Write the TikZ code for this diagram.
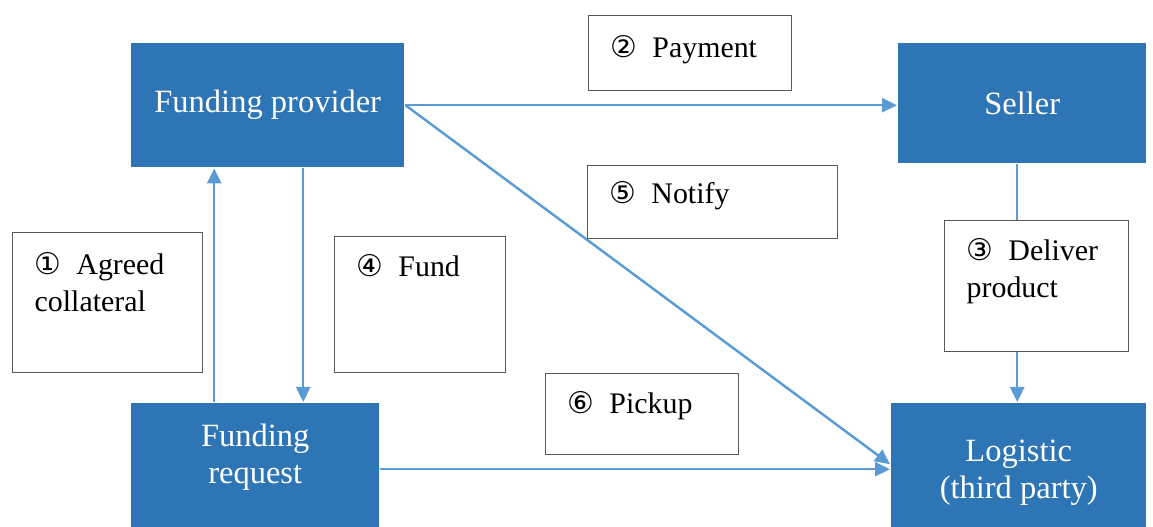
\documentclass[tikz,border=0pt]{standalone}
\usepackage{fontspec}
\setmainfont{Liberation Serif}
\newfontfamily\circfont{DejaVu Sans}
\usetikzlibrary{arrows.meta, positioning}
\definecolor{boxblue}{HTML}{2E75B6}
\definecolor{lineblue}{HTML}{5B9BD5}
\definecolor{framegray}{HTML}{595959}
\newcommand{\circnum}[1]{{\circfont #1}\hspace{0.3cm}}

\begin{document}
\begin{tikzpicture}[->, >={Triangle[length=0.3cm,width=0.28cm]}, line width=1.4pt, node distance=3cm]
  \tikzstyle{party}=[rectangle, fill=boxblue, draw=none, text=white, font=\fontsize{18.5}{21}\selectfont, align=center, inner sep=0pt, anchor=north west]
  \tikzstyle{lbl}=[rectangle, fill=white, draw=framegray, line width=0.8pt, text=black, font=\fontsize{17}{21}\selectfont, align=left, anchor=north west, inner xsep=0.44cm, inner ysep=0pt]
  \tikzstyle{flow}=[draw=lineblue, line width=1.4pt]
  \useasboundingbox (0,0) rectangle (23.06,10.54);
  % parties
  \node[party, minimum width=5.46cm, minimum height=2.48cm] (fp) at (2.60,9.70) {Funding provider};
  \node[party, minimum width=4.96cm, minimum height=2.40cm] (seller) at (17.94,9.70) {Seller};
  \node[party, minimum width=4.96cm, text height=1.60cm, text depth=0.90cm] (fr) at (2.60,2.50) {Funding\\request};
  \node[party, minimum width=5.10cm, text height=1.90cm, text depth=0.74cm] (log) at (17.80,2.50) {Logistic\\(third party)};
  % flows
  \draw[flow] (fp.east) -- (fp.east -| seller.west);
  \draw[flow] ([xshift=-0.82cm]fr.north) -- ([xshift=-0.82cm]fr.north |- fp.south);
  \draw[flow] ([xshift=0.71cm]fp.south) -- ([xshift=0.71cm]fp.south |- fr.north);
  \draw[flow] (fp.east) -- ([yshift=0.1cm]log.west);
  \draw[flow] (log.west -| fr.east) -- (log.west);
  \draw[flow] ([xshift=-0.1cm]seller.south) -- ([xshift=-0.1cm]seller.south |- log.north);
  % labels
  \node[lbl, text width=3.18cm, text height=0.84cm, text depth=0.66cm] (pay) at (11.76,10.24) {\circnum{②}Payment};
  \node[lbl, text width=4.12cm, text height=0.76cm, text depth=0.70cm] (notify) at (11.74,7.24) {\circnum{⑤}Notify};
  \node[lbl, text width=2.92cm, text height=0.84cm, text depth=1.96cm] (agreed) at (0.24,5.90) {\circnum{①}Agreed\\collateral};
  \node[lbl, text width=2.54cm, text height=0.80cm, text depth=1.92cm] (fund) at (6.68,5.82) {\circnum{④}Fund};
  \node[lbl, text width=2.80cm, text height=0.80cm, text depth=1.82cm] (deliver) at (18.88,6.14) {\circnum{③}Deliver\\product};
  \node[lbl, text width=2.98cm, text height=0.80cm, text depth=0.82cm] (pickup) at (10.90,3.08) {\circnum{⑥}Pickup};
\end{tikzpicture}
\end{document}
